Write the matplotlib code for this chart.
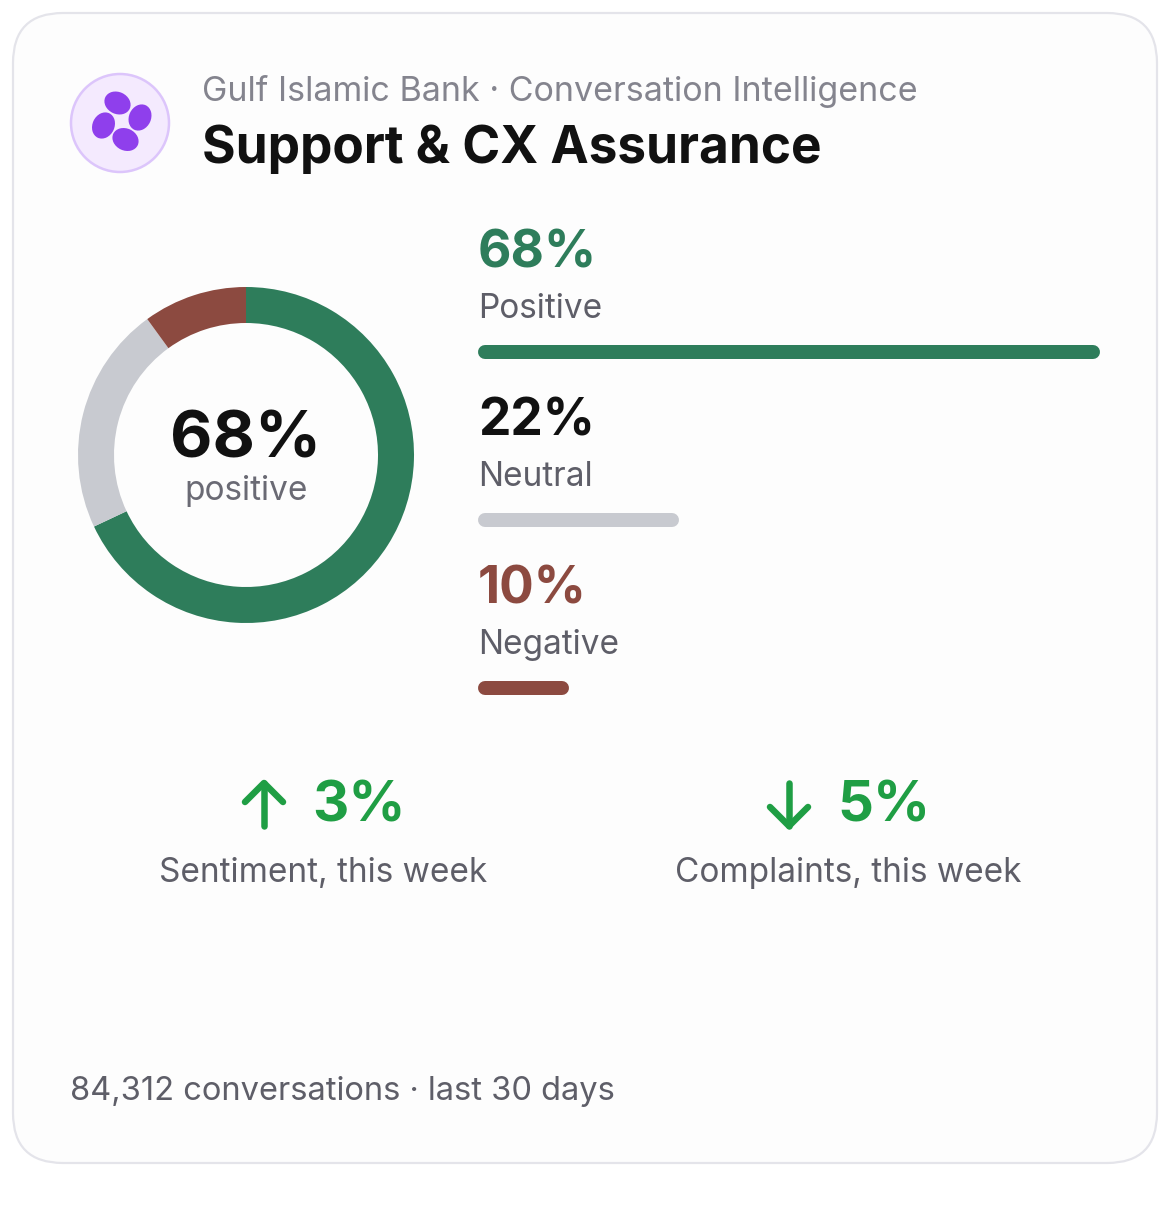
import matplotlib
matplotlib.use("Agg")
import matplotlib.pyplot as plt
from matplotlib.patches import FancyBboxPatch, Circle, Ellipse

plt.rcParams['font.family'] = ['Inter', 'DejaVu Sans']

# ---------------- data ----------------
org_name = "Gulf Islamic Bank · Conversation Intelligence"
title = "Support & CX Assurance"
categories = ["Positive", "Neutral", "Negative"]
shares = [68, 22, 10]
seg_colors = ["#2e7d5b", "#c8cad0", "#8c4a40"]
pct_colors = ["#2e7d5b", "#111111", "#8c4a40"]
center_label = "positive"
kpi_values = [3, 5]
kpi_dirs = ["up", "down"]
kpi_labels = ["Sentiment, this week", "Complaints, this week"]
footer = "84,312 conversations · last 30 days"

W, H = 1170, 1206
PT = 72 / 100  # points per pixel

fig = plt.figure(figsize=(W / 100, H / 100), dpi=100)
fig.patch.set_facecolor("white")
ax = fig.add_axes([0, 0, 1, 1])
ax.set_xlim(0, W)
ax.set_ylim(H, 0)
ax.axis("off")

# card
card = FancyBboxPatch((13 + 50, 13 + 50), 1144 - 100, 1150 - 100,
                      boxstyle="round,pad=50", facecolor="#fdfdfd",
                      edgecolor="#e4e4ea", linewidth=2.2 * PT)
ax.add_patch(card)

# logo
ax.add_patch(Circle((120, 123), 49, facecolor="#f4eafe", edgecolor="#dcc5fb",
                    linewidth=2.5 * PT))
purple = "#8f3fec"
for (ex, ey, w, h) in [(117.5, 103, 27, 22), (140, 117.5, 22, 27),
                       (103.5, 125.5, 22, 27), (125.5, 139.5, 27, 22)]:
    ax.add_patch(Ellipse((ex, ey), w, h, angle=25, facecolor=purple, edgecolor="none"))

ax.text(202, 101, org_name, fontsize=24.5, color="#84848e", va="baseline", ha="left")
ax.text(202, 163, title, fontsize=37, color="#111111", fontweight="bold",
        va="baseline", ha="left")

# donut
cx, cy, R = 246, 455, 168
dax = fig.add_axes([(cx - R) / W, 1 - (cy + R) / H, 2 * R / W, 2 * R / H])
dax.pie(shares, colors=seg_colors, startangle=90, counterclock=False,
        radius=1, wedgeprops=dict(width=36 / R, edgecolor="none", linewidth=0))
dax.set_xlim(-1, 1)
dax.set_ylim(-1, 1)
dax.set_aspect("equal")
dax.axis("off")

ax.text(cx, 457, f"{shares[0]}%", fontsize=47, fontweight="bold", color="#111111",
        ha="center", va="baseline")
ax.text(cx, 500, center_label, fontsize=24, color="#6a6a74", ha="center", va="baseline")

# right column: percent, label, bar
bx0, bx1 = 478, 1100
by0, by1 = 330, 710
bax = fig.add_axes([bx0 / W, 1 - by1 / H, (bx1 - bx0) / W, (by1 - by0) / H])
vmax = max(shares)
bax.set_xlim(0, vmax)
bax.set_ylim(by1, by0)
bax.axis("off")
bar_px = 14
cap = (bar_px / 2) * vmax / (bx1 - bx0)
for i, (cat, v, c, pc) in enumerate(zip(categories, shares, seg_colors, pct_colors)):
    off = i * 168
    ax.text(bx0, 267 + off, f"{v}%", fontsize=37, fontweight="bold", color=pc,
            ha="left", va="baseline")
    ax.text(bx0, 318 + off, cat, fontsize=24, color="#5e5e68", ha="left", va="baseline")
    bax.plot([cap, v - cap], [352 + off, 352 + off], color=c, linewidth=bar_px * PT,
             solid_capstyle="round")

# KPIs
green = "#1f9e44"
kpi_centers = [323, 848]
for xc, val, d, lab in zip(kpi_centers, kpi_values, kpi_dirs, kpi_labels):
    axc = xc - 59
    top, bot = 783, 826
    if d == "up":
        shaft = ([axc, axc], [bot, top])
        head = ([axc - 19, axc, axc + 19], [top + 19, top, top + 19])
    else:
        shaft = ([axc, axc], [top, bot])
        head = ([axc - 19, axc, axc + 19], [bot - 19, bot, bot - 19])
    ax.plot(*shaft, color=green, linewidth=6.5 * PT, solid_capstyle="round")
    ax.plot(*head, color=green, linewidth=6.5 * PT, solid_capstyle="round",
            solid_joinstyle="round")
    ax.text(axc + 48, 822, f"{val}%", fontsize=40.5, fontweight="bold", color=green,
            ha="left", va="baseline")
    ax.text(xc, 882, lab, fontsize=24, color="#5e5e68", ha="center", va="baseline")

ax.text(70, 1100, footer, fontsize=23.5, color="#5e5e68", ha="left", va="baseline")

fig.savefig("out.png", dpi=100, facecolor="white")
